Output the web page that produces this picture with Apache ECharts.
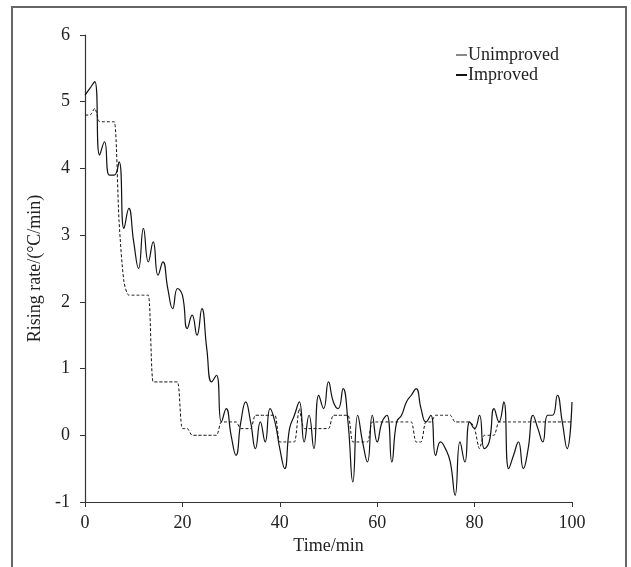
<!DOCTYPE html>
<html>
<head>
<meta charset="utf-8">
<script src="https://cdn.jsdelivr.net/npm/echarts@6/dist/echarts.min.js"></script>
<style>
html,body{margin:0;padding:0;background:#fff;}
#chart{width:631px;height:567px;}
</style>
</head>
<body>
<div id="chart"></div>
<script>
// Time axis (min)
var timeMin = [];
for (var t = 0; t <= 100; t++) timeMin.push(t);

var improved = [
  5.1, 5.2, 5.3, 4.2, 4.4, 3.9, 3.9, 4.1, 3.1, 3.4,
  2.9, 2.5, 3.1, 2.6, 2.9, 2.4, 2.6, 2.2, 1.9, 2.2,
  2.1, 1.6, 1.8, 1.5, 1.9, 1.3, 0.8, 0.9, 0.2, 0.4,
  0.0, -0.3, 0.2, 0.5, 0.2, -0.2, 0.2, -0.1, 0.4, 0.2,
  -0.2, -0.5, 0.1, 0.3, 0.5, -0.1, 0.3, -0.2, 0.6, 0.4,
  0.8, 0.5, 0.4, 0.7, 0.2, -0.7, 0.3, -0.1, -0.4, 0.3,
  -0.1, 0.2, 0.3, -0.4, 0.2, 0.3, 0.5, 0.6, 0.7, 0.4,
  0.2, 0.3, -0.3, -0.1, -0.2, -0.4, -0.9, -0.1, -0.4, 0.2,
  0.1, 0.3, -0.2, -0.1, 0.4, 0.2, 0.5, -0.5, -0.3, -0.1,
  -0.5, -0.2, 0.3, 0.1, -0.1, 0.3, 0.3, 0.6, 0.2, -0.2,
  0.5
];

var unimproved = [
  4.8, 4.8, 4.9, 4.7, 4.7, 4.7, 4.7, 3.2, 2.3, 2.1,
  2.1, 2.1, 2.1, 2.1, 0.8, 0.8, 0.8, 0.8, 0.8, 0.8,
  0.1, 0.1, 0.0, 0.0, 0.0, 0.0, 0.0, 0.0, 0.2, 0.2,
  0.2, 0.2, 0.1, 0.1, 0.1, 0.3, 0.3, 0.3, 0.3, 0.3,
  -0.1, -0.1, -0.1, -0.1, 0.4, 0.1, 0.1, 0.1, 0.1, 0.1,
  0.1, 0.3, 0.3, 0.3, 0.3, -0.1, -0.1, -0.1, -0.1, 0.2,
  0.2, 0.2, 0.2, 0.2, 0.2, 0.2, 0.2, 0.2, -0.1, -0.1,
  0.2, 0.2, 0.3, 0.3, 0.3, 0.3, 0.2, 0.2, 0.2, 0.2,
  0.1, -0.2, 0.0, 0.0, 0.0, 0.2, 0.2, 0.2, 0.2, 0.2,
  0.2, 0.2, 0.2, 0.2, 0.2, 0.2, 0.2, 0.2, 0.2, 0.2,
  0.2
];

function pairs(xs, ys) {
  return xs.map(function (x, i) { return [x, ys[i]]; });
}

var font = 'Liberation Serif';
var txt = '#222';

var chart = echarts.init(document.getElementById('chart'));
chart.setOption({
  animation: false,
  backgroundColor: '#fff',
  graphic: [{
    type: 'rect',
    shape: { x: 12, y: 7, width: 614, height: 580 },
    style: { fill: 'none', stroke: '#666', lineWidth: 2 },
    silent: true
  }],
  grid: { left: 85, right: 59, top: 35, bottom: 65 },
  legend: {
    orient: 'vertical',
    left: 451,
    top: 41,
    itemWidth: 11,
    itemHeight: 2,
    itemGap: 2,
    textStyle: { fontFamily: font, fontSize: 18, color: txt, padding: [0, 0, 0, -4] },
    data: [
      { name: 'Unimproved', icon: 'rect', itemStyle: { color: '#888' } },
      { name: 'Improved', icon: 'rect', itemStyle: { color: '#111' } }
    ]
  },
  xAxis: {
    type: 'value',
    min: 0, max: 100, interval: 20,
    name: 'Time/min',
    nameLocation: 'middle',
    nameGap: 35,
    nameTextStyle: { fontFamily: font, fontSize: 18, color: txt },
    axisLine: { show: true, onZero: false, lineStyle: { color: '#333', width: 1.2 } },
    axisTick: { show: true, inside: false, length: 5, lineStyle: { color: '#333' } },
    axisLabel: { fontFamily: font, fontSize: 18, color: txt, margin: 12 },
    splitLine: { show: false }
  },
  yAxis: {
    type: 'value',
    min: -1, max: 6, interval: 1,
    name: 'Rising rate/(°C/min)',
    nameLocation: 'middle',
    nameGap: 36,
    nameTextStyle: { fontFamily: font, fontSize: 18, color: txt },
    axisLine: { show: true, onZero: false, lineStyle: { color: '#333', width: 1.2 } },
    axisTick: { show: true, inside: false, length: 5, lineStyle: { color: '#333' } },
    axisLabel: { fontFamily: font, fontSize: 18, color: txt, margin: 15 },
    splitLine: { show: false }
  },
  series: [
    {
      name: 'Unimproved',
      type: 'line',
      data: pairs(timeMin, unimproved),
      smooth: 0.25,
      showSymbol: false,
      lineStyle: { color: '#111', width: 1, type: [3, 2] },
      itemStyle: { color: '#888' },
      z: 2
    },
    {
      name: 'Improved',
      type: 'line',
      data: pairs(timeMin, improved),
      smooth: 0.5,
      showSymbol: false,
      lineStyle: { color: '#111', width: 1.2 },
      itemStyle: { color: '#111' },
      z: 3
    }
  ]
});
</script>
</body>
</html>
